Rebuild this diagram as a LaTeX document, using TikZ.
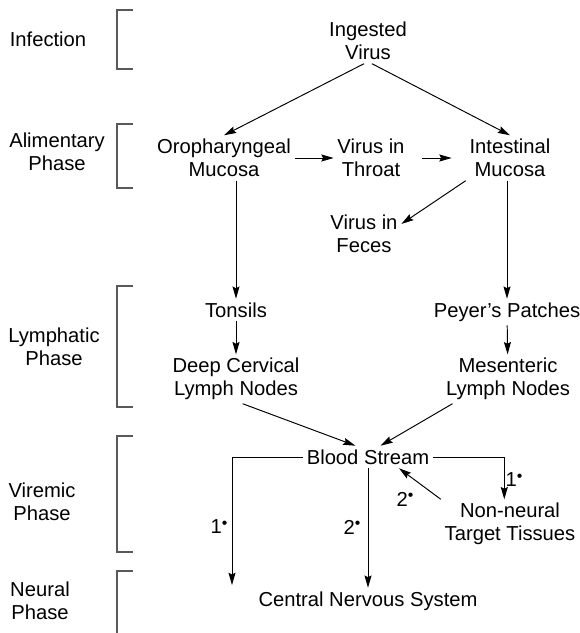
\documentclass[tikz,border=0pt]{standalone}
\usepackage{fontspec}
\setmainfont{Liberation Sans}
\usetikzlibrary{arrows.meta}
\tikzset{
  stage/.style={align=center,inner sep=2pt,font=\fontsize{11.5}{13}\selectfont},
  phase/.style={align=center,inner sep=0pt,font=\fontsize{11.5}{13}\selectfont},
  arr/.style={-{Stealth[length=7pt,width=4pt,inset=1pt]},line width=0.55pt},
  brak/.style={line width=0.7pt,black!65}
}
\newcommand{\routeno}[1]{#1\raisebox{0.55ex}{\fontsize{9}{9}\selectfont •}}
\begin{document}
\begin{tikzpicture}[x=0.02cm,y=-0.02cm]
\useasboundingbox (0,0) rectangle (579,633);
\draw[brak] (133,10) -| (117,69) -- (133,69);
\draw[brak] (133,124) -| (117,188) -- (133,188);
\draw[brak] (133,286) -| (117,407) -- (133,407);
\draw[brak] (133,436) -| (117,552) -- (133,552);
\draw[brak] (133,571) -| (117,633);
\node[phase] (infection) at (48,39) {Infection};
\node[phase] (alimentary) at (57,152) {Alimentary\\Phase};
\node[phase] (lymphatic) at (54,347) {Lymphatic\\Phase};
\node[phase] (viremic) at (42,502) {Viremic\\Phase};
\node[phase] (neural) at (40,601) {Neural\\Phase};
\node[stage] (ing) at (368,41) {Ingested\\Virus};
\node[stage] (oro) at (224,158) {Oropharyngeal\\Mucosa};
\node[stage] (thr) at (371,158) {Virus in\\Throat};
\node[stage] (int) at (510,158) {Intestinal\\Mucosa};
\node[stage] (fec) at (364,234) {Virus in\\Feces};
\node[stage] (ton) at (236,310) {Tonsils};
\node[stage] (pey) at (507,312) {Peyer's Patches};
\node[stage] (dcl) at (236,379) {Deep Cervical\\Lymph Nodes};
\node[stage] (mes) at (508,379) {Mesenteric\\Lymph Nodes};
\node[stage] (blo) at (368,457) {Blood Stream};
\node[stage] (nnt) at (510,524) {Non-neural\\Target Tissues};
\node[stage] (cns) at (368,601) {Central Nervous System};
\coordinate (neu) at (232,585);
\draw[arr] (ing.-100) -- (oro.north);
\draw[arr] (ing.-80) -- (int.north);
\draw[arr] (oro.east) -- (thr.west);
\draw[arr,shorten <=8pt,shorten >=8pt] (thr.east) -- (int.west);
\draw[arr] (int.south west) -- (fec.15);
\draw[arr] (oro.south -| ton.north) -- (ton.north);
\draw[arr] (int.south -| pey.north) -- (pey.north);
\draw[arr] (ton) -- (dcl);
\draw[arr] (pey) -- (mes);
\draw[arr] (dcl.-75) -- (blo.138);
\draw[arr] (mes.-156) -- (blo.42);
\draw[arr] (blo.west) -| (neu);
\draw[arr] (blo.south) -- (cns.north);
\draw[arr] (blo.east) -| (nnt.103);
\draw[arr] (nnt.north west) -- (blo.-20);
\node[stage] (r1a) at (219,527) {\routeno{1}};
\node[stage] (r2a) at (352,527) {\routeno{2}};
\node[stage] (r1b) at (514,480) {\routeno{1}};
\node[stage] (r2b) at (405,499) {\routeno{2}};
\end{tikzpicture}
\end{document}
